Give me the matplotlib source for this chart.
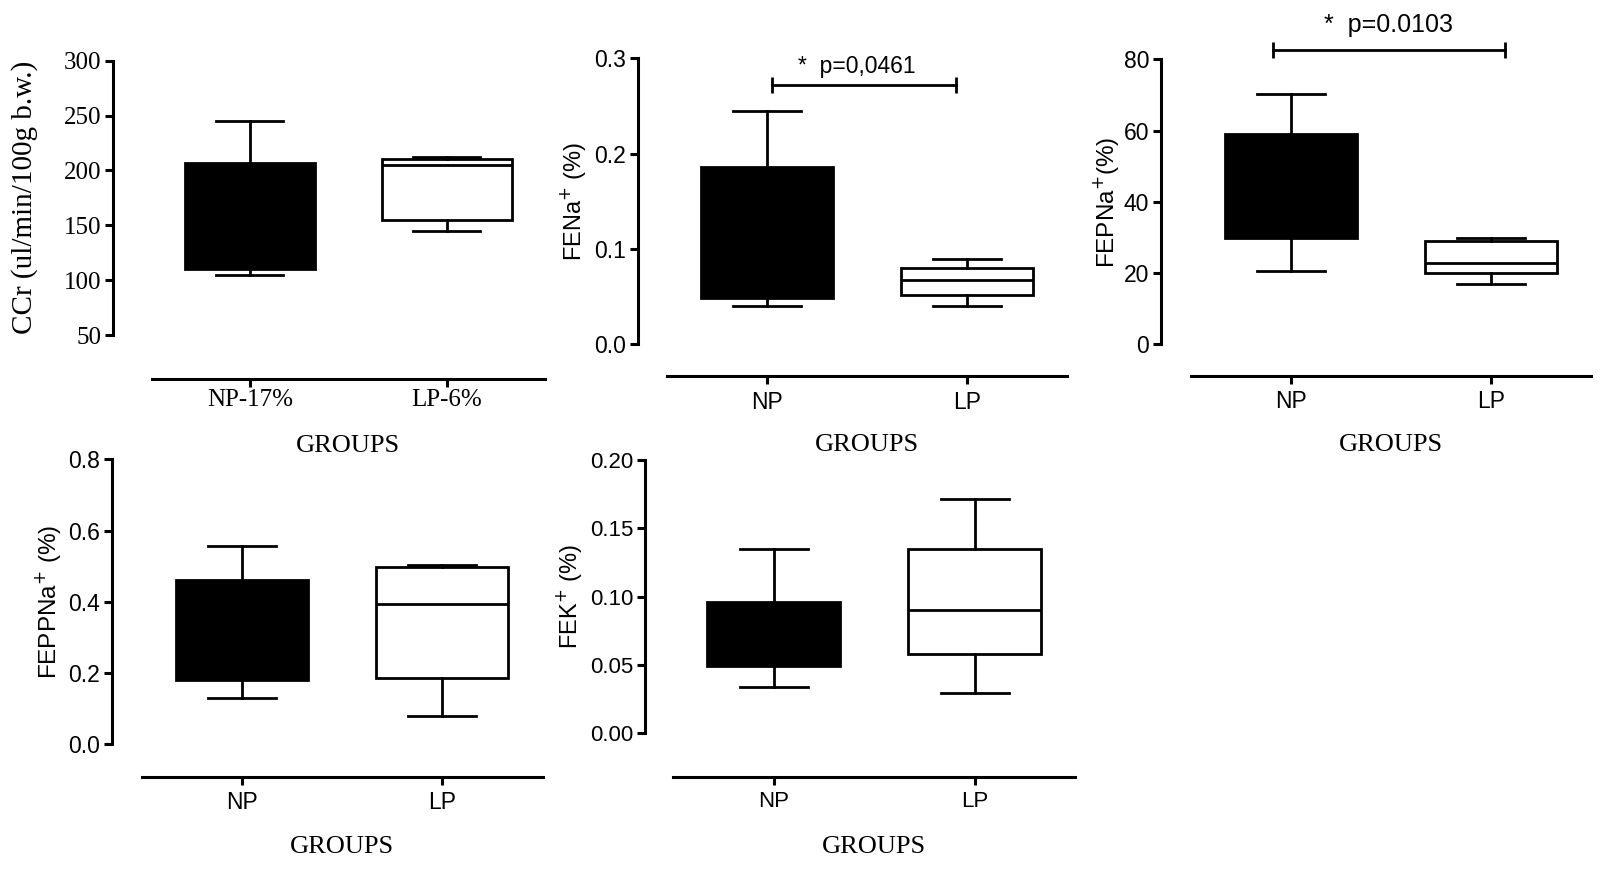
import matplotlib
matplotlib.use("Agg")
import matplotlib.pyplot as plt
from matplotlib.ticker import FormatStrFormatter

W, H, DPI = 1605, 873, 100
PT = 72.0 / DPI  # points per pixel

# ---------------- data (whisker low, Q1, median, Q3, whisker high) ----------------
groups_ccr = ["NP-17%", "LP-6%"]
groups = ["NP", "LP"]

ccr_np = [104.5, 110.0, 150.0, 207.0, 245.0]
ccr_lp = [145.0, 155.0, 204.6, 210.0, 212.5]

fena_np = [0.040, 0.0485, 0.120, 0.1855, 0.245]
fena_lp = [0.040, 0.051, 0.067, 0.080, 0.0895]

fepna_np = [20.5, 29.9, 33.7, 59.0, 70.3]
fepna_lp = [16.8, 20.1, 22.8, 29.0, 29.8]

feppna_np = [0.130, 0.180, 0.221, 0.460, 0.557]
feppna_lp = [0.080, 0.186, 0.395, 0.498, 0.504]

fek_np = [0.034, 0.0493, 0.0756, 0.0961, 0.1346]
fek_lp = [0.0293, 0.0578, 0.0902, 0.1346, 0.1715]

p_fena = "*  p=0,0461"
p_fepna = "*  p=0.0103"

SERIF = ["Liberation Serif", "DejaVu Serif"]
SANS = ["Liberation Sans", "DejaVu Sans"]

fig = plt.figure(figsize=(W / DPI, H / DPI), dpi=DPI)


def px_axes(l, t, r, b):
    return fig.add_axes([l / W, 1 - b / H, (r - l) / W, (b - t) / H])


def panel(rect, np_s, lp_s, labels, ylim, yticks, fmt, ylabel, ylabel_x,
          left_out, bottom_out, tick_family, tick_size, ylabel_family, ylabel_size,
          xtick_pad, group_y, sig=None):
    l, t, r, b = rect
    ax = px_axes(l, t, r, b)
    stats = []
    for lab, s in zip(labels, [np_s, lp_s]):
        lo, q1, med, q3, hi = s
        stats.append(dict(label=lab, whislo=lo, q1=q1, med=med, q3=q3,
                          whishi=hi, fliers=[]))
    bp = ax.bxp(stats, positions=[0, 1], widths=0.66, capwidths=0.34,
                patch_artist=True, showfliers=False,
                boxprops=dict(linewidth=2.0, edgecolor="black"),
                whiskerprops=dict(linewidth=2.0, color="black"),
                capprops=dict(linewidth=2.0, color="black"),
                medianprops=dict(linewidth=2.0, color="black"))
    bp["boxes"][0].set_facecolor("black")
    bp["boxes"][1].set_facecolor("white")

    ax.set_xlim(-0.5, 1.5)
    ax.set_ylim(*ylim)
    ax.set_yticks(yticks)
    ax.yaxis.set_major_formatter(FormatStrFormatter(fmt))
    ax.set_xticks([0, 1])
    ax.set_xticklabels(labels)

    for side in ("top", "right"):
        ax.spines[side].set_visible(False)
    ax.spines["left"].set_position(("outward", left_out * PT))
    ax.spines["bottom"].set_position(("outward", bottom_out * PT))
    for side in ("left", "bottom"):
        ax.spines[side].set_linewidth(2.2)

    ax.tick_params(axis="y", direction="out", length=5.5, width=2.2, pad=3,
                   labelsize=tick_size, labelfontfamily=tick_family)
    ax.tick_params(axis="x", direction="out", length=5.5, width=2.2, pad=xtick_pad,
                   labelsize=tick_size, labelfontfamily=tick_family)

    ax.set_ylabel(ylabel, family=ylabel_family, fontsize=ylabel_size)
    ax.yaxis.set_label_coords((ylabel_x - l) / (r - l), 0.5)
    ax.yaxis.label.set_verticalalignment("center")
    ax.yaxis.label.set_horizontalalignment("center")

    ax.set_xlabel("GROUPS", family=SERIF, fontsize=19)
    ax.xaxis.set_label_coords(0.5, (b - group_y) / (b - t))
    ax.xaxis.label.set_verticalalignment("center")

    if sig is not None:
        x0, x1, y, text, tx, ty, fs = sig
        ax.plot([x0, x1], [y, y], color="black", linewidth=2.0, marker="|",
                markersize=12, markeredgewidth=2.0, clip_on=False)
        ax.text(tx, ty, text, ha="center", va="center", family=SANS,
                fontsize=fs, clip_on=False)
    ax.set_facecolor("none")
    return ax


# Panel 1: CCr
panel((151.5, 60.7, 545.0, 335.0), ccr_np, ccr_lp, groups_ccr,
      (50, 300), [50, 100, 150, 200, 250, 300], "%d",
      "CCr (ul/min/100g b.w.)", 25, 38.5, 44, SERIF, 18, SERIF, 21,
      2, 446)

# Panel 2: FENa
panel((666.7, 58.3, 1066.7, 344.0), fena_np, fena_lp, groups,
      (0, 0.3), [0.0, 0.1, 0.2, 0.3], "%.1f",
      "FENa$^{+}$ (%)", 573, 28.7, 32, SANS, 16.5, SANS, 17,
      5, 445,
      sig=(0.025, 0.947, 0.272, p_fena, 0.45, 0.291, 16.5))

# Panel 3: FEPNa
panel((1190.7, 59.3, 1591.0, 344.3), fepna_np, fepna_lp, groups,
      (0, 80), [0, 20, 40, 60, 80], "%d",
      "FEPNa$^{+}$(%)", 1106, 29.7, 31.4, SANS, 16.5, SANS, 17.5,
      5, 445,
      sig=(-0.087, 1.07, 82.6, p_fepna, 0.49, 89.6, 18))

# Panel 4: FEPPNa
panel((141.7, 459.3, 542.5, 744.3), feppna_np, feppna_lp, groups,
      (0, 0.8), [0.0, 0.2, 0.4, 0.6, 0.8], "%.1f",
      "FEPPNa$^{+}$ (%)", 48, 29.7, 32.4, SANS, 16.5, SANS, 17.5,
      5, 847)

# Panel 5: FEK
panel((673.3, 460.0, 1075.3, 733.3), fek_np, fek_lp, groups,
      (0, 0.2), [0.0, 0.05, 0.10, 0.15, 0.20], "%.2f",
      "FEK$^{+}$ (%)", 569, 28.3, 43.4, SANS, 16, SANS, 17,
      5, 847)

fig.savefig("out.png", dpi=DPI, facecolor="white")
